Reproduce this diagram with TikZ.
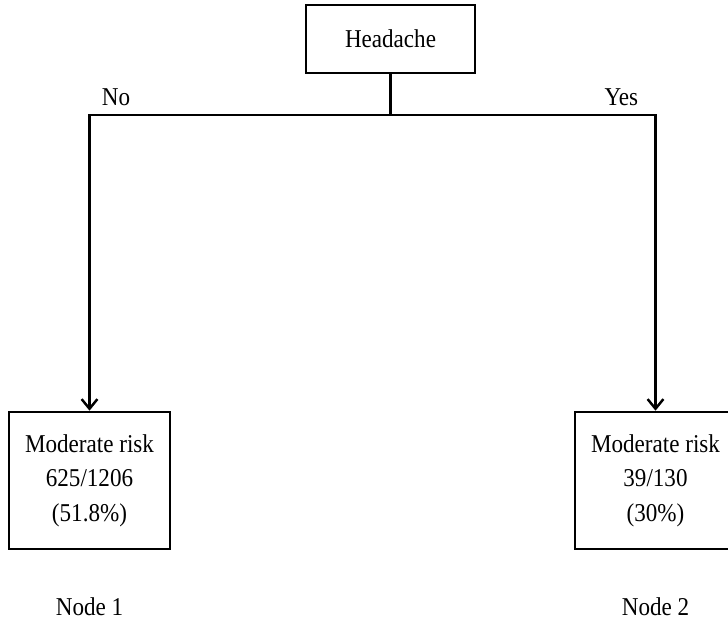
\documentclass[tikz,border=0pt]{standalone}
\usepackage{fontspec}
\setmainfont{Liberation Serif}[FakeStretch=0.9]
\usetikzlibrary{arrows.meta, positioning}
\tikzset{
  box/.style   = {draw, line width=1.5pt, align=center, inner sep=0pt,
                  font=\fontsize{14.6}{19.6}\selectfont},
  rootbox/.style = {box, minimum width=3.38cm, minimum height=1.36cm},
  leafbox/.style = {box, minimum width=3.22cm, minimum height=2.74cm},
  lbl/.style   = {inner sep=0pt, font=\fontsize{14.6}{19.6}\selectfont},
  conn/.style  = {line width=1.4pt},
  arr/.style   = {conn, -{Straight Barb[length=5.5pt, width=9pt, line width=1.4pt]}}
}
\begin{document}
\begin{tikzpicture}
  \useasboundingbox (0,0) rectangle (14.56,-12.52);
  \node[rootbox] (root) at (7.81,-0.78) {Headache};
  \coordinate (split) at (7.81,-2.30);
  \node[leafbox] (lft) at (1.79,-9.61) {Moderate risk\\625/1206\\(51.8\%)};
  \node[leafbox] (rgt) at (13.11,-9.61) {Moderate risk\\39/130\\(30\%)};
  \node[lbl, below=0.95cm of lft] (lftname) {Node 1};
  \node[lbl, below=0.95cm of rgt] (rgtname) {Node 2};
  \coordinate (nocorner) at (lft.north |- split);
  \coordinate (yescorner) at (rgt.north |- split);
  \node[lbl, above right=0.17cm and 0.24cm of nocorner] (no) {No};
  \node[lbl, above left=0.17cm and 0.34cm of yescorner] (yes) {Yes};
  \draw[conn] (root.south) -- (split);
  \draw[arr] (split) -| (lft.north);
  \draw[arr] (split) -| (rgt.north);
\end{tikzpicture}
\end{document}
